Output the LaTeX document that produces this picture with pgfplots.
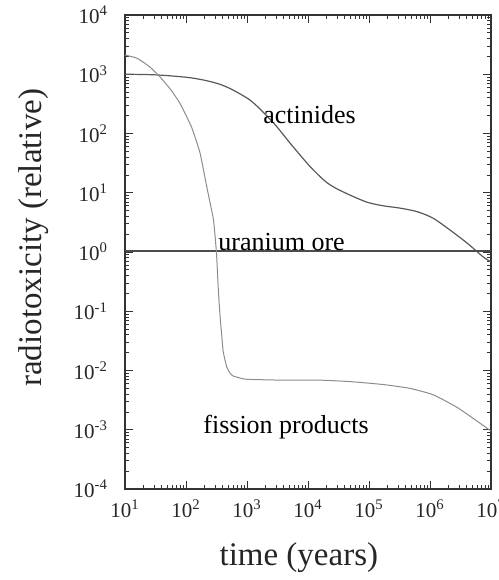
\documentclass[border=0pt]{standalone}
\usepackage{fontspec}
\setmainfont{Liberation Serif}
\usepackage{pgfplots}
\pgfplotsset{compat=1.18}
\begin{document}
\begin{tikzpicture}
\useasboundingbox (0,0) rectangle (249.5pt,290pt);
\begin{axis}[
  at={(62.5pt,45.5pt)}, anchor=south west,
  scale only axis, width=183pt, height=237pt,
  xmode=log, ymode=log,
  xmin=10, xmax=1e7, ymin=1e-4, ymax=1e4,
  axis line style={black!80, line width=0.6pt},
  tick style={black!80, line width=0.4pt},
  tick align=inside,
  major tick length=4pt, minor tick length=2.2pt,
  xtick={10,100,1000,10000,100000,1000000,10000000},
  xticklabels={10\textsuperscript{1},10\textsuperscript{2},10\textsuperscript{3},10\textsuperscript{4},10\textsuperscript{5},10\textsuperscript{6},10\textsuperscript{7}},
  ytick={1e-4,1e-3,1e-2,1e-1,1,10,100,1000,10000},
  yticklabels={10\textsuperscript{-4},10\textsuperscript{-3},10\textsuperscript{-2},10\textsuperscript{-1},10\textsuperscript{0},10\textsuperscript{1},10\textsuperscript{2},10\textsuperscript{3},10\textsuperscript{4}},
  ticklabel style={font=\fontsize{10.5}{12}\selectfont, text=black!85},
  xticklabel style={anchor=base, yshift=-14pt},
  yticklabel style={anchor=east, xshift=-5pt},
  xlabel={time (years)},
  ylabel={radiotoxicity (relative)},
  label style={font=\fontsize{16.5}{18}\selectfont, text=black!85},
  xlabel style={at={(axis description cs:0.475,0)}, anchor=base, yshift=-38pt},
  ylabel style={at={(axis description cs:-0.251,0.53)}, anchor=center, rotate=0},
  clip=false,
]
% actinides
\addplot[black!65, line width=0.6pt, smooth, tension=0.5] coordinates {
(10,1000) (31.6,977) (100,891) (200,794) (361,676) (589,542) (1119,367)
(1828,231) (3105,129) (5070,69) (9638,31.6) (14125,20.9) (19953,15.1)
(28184,12.0) (48978,9.12) (93325,6.92) (169824,6.03) (323594,5.50)
(616595,4.79) (1122018,3.72) (2137962,2.34) (4073803,1.41) (7413102,0.83)
(10000000,0.68)
};
% uranium ore
\addplot[black!70, line width=0.6pt] coordinates {(10,1.04) (10000000,1.04)};
% fission products
\addplot[black!45, line width=0.5pt, smooth, tension=0.3] coordinates {
(10,2110) (15.8,1862) (25.1,1349) (37.2,912) (56.2,550) (79.4,324)
(123,129) (170,46.8) (219,12.6) (282,3.47) (316,0.955) (339,0.229)
(363,0.079) (385,0.040) (407,0.0209) (465,0.0115) (525,0.0091)
(589,0.0081) (794,0.0074) (1000,0.0071) (3162,0.0069) (14125,0.0069)
(48978,0.0065) (169824,0.0058) (467735,0.0050) (1122018,0.0039)
(2754229,0.0024) (6606934,0.00129) (10000000,0.00095)
};
\node[font=\fontsize{13}{15}\selectfont, anchor=base west, inner sep=0pt] at (axis cs:1828,150) {actinides};
\node[font=\fontsize{13}{15}\selectfont, anchor=base west, inner sep=0pt] at (axis cs:335,1.06) {uranium ore};
\node[font=\fontsize{13}{15}\selectfont, anchor=base west, inner sep=0pt] at (axis cs:190,0.00085) {fission products};
\end{axis}
\end{tikzpicture}
\end{document}
